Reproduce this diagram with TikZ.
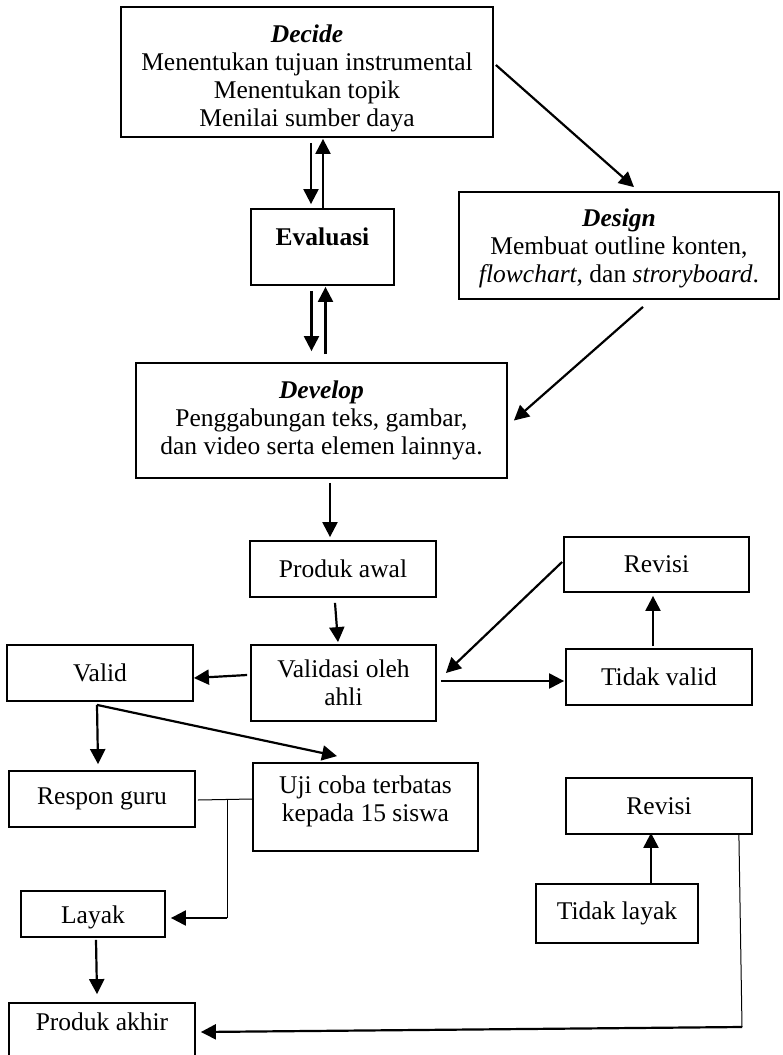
\documentclass[tikz,border=0pt]{standalone}
\usepackage{fontspec}
\setmainfont{Liberation Serif}
\usetikzlibrary{arrows.meta,calc}
\begin{document}
\begin{tikzpicture}[x=1pt,y=-1pt,
  box/.style={draw,line width=1.8pt,inner sep=0pt,align=center,
    font=\fontsize{25.5}{28}\selectfont},
  arr/.style={line width=2.2pt,-{Triangle[length=15pt,width=15pt]}},
  thinline/.style={line width=1pt},
]
\useasboundingbox (0,0) rectangle (782,1055);
\fill[white] (0,0) rectangle (782,1055);
\clip (0,0) rectangle (782,1055);

% ---------- boxes ----------
\node[box,minimum width=372pt,minimum height=130pt] (dec) at (307,72)
  {\rule{0pt}{31pt}\textbf{\textit{Decide}}\\Menentukan tujuan instrumental\\Menentukan topik\\Menilai sumber daya};
\node[box,minimum width=143pt,minimum height=76pt,text depth=20pt] (eval) at (322.5,247)
  {\textbf{Evaluasi}};
\node[box,minimum width=320pt,minimum height=107pt] (des) at (619,245.5)
  {\rule{0pt}{24pt}\textbf{\textit{Design}}\\Membuat outline konten,\\\textit{flowchart}, dan \textit{stroryboard}.};
\node[box,minimum width=371pt,minimum height=115pt] (dev) at (321.5,420.5)
  {\textbf{\textit{Develop}}\\Penggabungan teks, gambar,\\dan video serta elemen lainnya.};
\node[box,minimum width=186pt,minimum height=56pt] (pawal) at (343,569) {Produk awal};
\node[box,minimum width=185pt,minimum height=76pt] (val) at (343.5,683) {Validasi oleh\\ahli};
\node[box,minimum width=186pt,minimum height=56pt] (valid) at (100,673) {Valid};
\node[box,minimum width=186pt,minimum height=56pt] (tval) at (659,677) {Tidak valid};
\node[box,minimum width=185pt,minimum height=55pt] (rev1) at (656.5,564.5) {Revisi};
\node[box,minimum width=186pt,minimum height=56pt] (resp) at (102,799) {Respon guru};
\node[box,minimum width=225pt,minimum height=88pt,text depth=16pt] (uji) at (365.5,807)
  {Uji coba terbatas\\kepada 15 siswa};
\node[box,minimum width=144pt,minimum height=46pt,text height=25pt] (layak) at (93,914) {Layak};
\node[box,minimum width=186pt,minimum height=56pt] (rev2) at (659,806) {Revisi};
\node[box,minimum width=162pt,minimum height=59pt] (tlayak) at (617,913.5) {Tidak layak};
\node[box,minimum width=186pt,minimum height=67pt,text depth=29pt] (pakhir) at (102,1036.5)
  {Produk akhir};

% ---------- junction points ----------
\coordinate (j1) at (227,800);
\coordinate (j2) at (227,918);
\coordinate (k1) at (742,1027);

% ---------- connectors ----------
% Decide <-> Evaluasi
\draw[arr] ($(dec.south)+(4,5)$) -- ($(eval.north)+(-11.5,-4)$);
\draw[arr] ($(eval.north)+(0.5,0)$) -- ($(dec.south)+(16,1)$);
% Evaluasi <-> Develop
\draw[arr] ($(eval.south)+(-11,5)$) -- ($(dev.north)+(-10,-11)$);
\draw[arr] ($(dev.north)+(4,-8)$) -- ($(eval.south)+(3,1)$);
% Decide -> Design -> Develop
\draw[arr] ($(dec.east)+(2,-7)$) -- ($(des.north)+(15,-4)$);
\draw[arr] ($(des.south)+(24,7)$) -- ($(dev.east)+(6,0)$);
% Develop -> Produk awal -> Validasi
\draw[arr] ($(dev.south)+(8.5,4)$) -- ($(pawal.north)+(-13,-3)$);
\draw[arr] ($(pawal.south)+(-8,5)$) -- ($(val.north)+(-5.5,-2)$);
% Validasi -> Valid / Tidak valid
\draw[arr] ($(val.west)+(-3,-8)$) -- ($(valid.east)+(0,5)$);
\draw[arr] ($(val.east)+(4,-2)$) -- ($(tval.west)+(-1,4)$);
% Tidak valid -> Revisi -> Validasi
\draw[arr] ($(tval.north)+(-6,-2)$) -- ($(rev1.south)+(-3.5,3)$);
\draw[arr] ($(rev1.west)+(-1,-2.5)$) -- ($(val.east)+(9,-10)$);
% Valid -> Respon guru / Uji coba
\draw[arr] ($(valid.south)+(-3,3)$) -- ($(resp.north)+(-4,-6)$);
\draw[arr] ($(valid.south)+(-3,3)$) -- ($(uji.north)+(-28.5,-6)$);
% Respon guru + Uji coba -> Layak
\draw[thinline] ($(resp.east)+(2,1)$) -- ($(uji.west)+(0,-8)$);
\draw[thinline] (j1) -- (j2);
\draw[arr] (j2) -- ($(layak.east)+(5,4)$);
% Layak -> Produk akhir
\draw[arr] ($(layak.south)+(3,2)$) -- ($(pakhir.north)+(-5,-8)$);
% Tidak layak -> Revisi -> Produk akhir
\draw[arr] ($(tlayak.north)+(34,0)$) -- ($(rev2.south)+(-8,-2)$);
\draw[thinline] ($(rev2.south east)+(-14,0)$) -- (k1);
\draw[arr] (k1) -- ($(pakhir.east)+(5,-4.5)$);
\end{tikzpicture}
\end{document}
